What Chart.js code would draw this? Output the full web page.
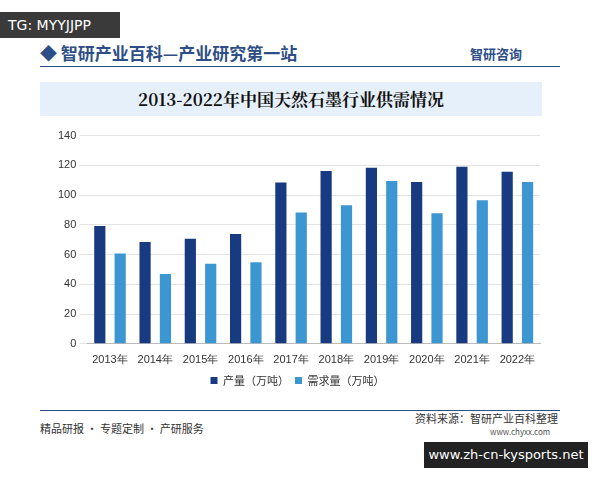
<!DOCTYPE html>
<html><head><meta charset="utf-8">
<script src="https://cdn.jsdelivr.net/npm/chart.js@4/dist/chart.umd.min.js"></script>
<style>
body{margin:0;width:600px;height:480px;background:#fff;font-family:"Noto Sans CJK SC",sans-serif;position:relative;overflow:hidden}
.abs{position:absolute}
</style></head><body>
<div class="abs" style="left:0;top:12px;width:120px;height:26px;background:#3a3a3a;color:#fff;font:14px 'DejaVu Sans';line-height:26px;padding-left:8px;box-sizing:border-box">TG: MYYJJPP</div>
<div class="abs" style="left:40px;top:40px;font-size:17px;font-weight:bold;color:#2d4e86">◆ 智研产业百科—产业研究第一站</div>
<div class="abs" style="left:470px;top:44px;font-size:13px;color:#2d4e86;font-weight:bold">智研咨询</div>
<div class="abs" style="left:40px;top:66px;width:520px;border-top:1px solid #2d4e86"></div>
<div class="abs" style="left:40px;top:82px;width:502px;height:34px;background:#e6f0fa;text-align:center;line-height:34px;font-family:'Noto Serif CJK SC','Noto Sans CJK SC';font-size:17px;font-weight:bold;color:#111">2013-2022年中国天然石墨行业供需情况</div>
<div class="abs" style="left:40px;top:410px;width:520px;border-top:1px solid #2d4e86"></div>
<div class="abs" style="left:40px;top:420px;font-size:11px;color:#333">精品研报 · 专题定制 · 产研服务</div>
<div class="abs" style="left:415px;top:410px;font-size:11px;color:#333">资料来源：智研产业百科整理</div>
<div class="abs" style="left:490px;top:426px;font-size:8px;color:#555">www.chyxx.com</div>
<div class="abs" style="left:424px;top:442px;width:164px;height:26px;background:#222;color:#fff;font:13px 'DejaVu Sans';line-height:26px;text-align:center">www.zh-cn-kysports.net</div>
<div class="abs" style="left:55px;top:126px;width:495px;height:270px"><canvas id="c"></canvas></div>
<script>
const categories=["2013年","2014年","2015年","2016年","2017年","2018年","2019年","2020年","2021年","2022年"];
const production=[79.2,68.4,70.6,73.9,108.4,116.2,118.4,108.8,119,115.7];
const demand=[60.8,46.9,53.8,54.9,88.3,93.1,109.5,87.8,96.5,108.8];
new Chart(document.getElementById('c'),{type:'bar',
data:{labels:categories,datasets:[
{label:'产量（万吨）',data:production,backgroundColor:'#173a80',barPercentage:0.55,categoryPercentage:0.9},
{label:'需求量（万吨）',data:demand,backgroundColor:'#3c96d2',barPercentage:0.55,categoryPercentage:0.9}]},
options:{responsive:true,maintainAspectRatio:false,animation:false,
layout:{padding:{right:10}},
plugins:{legend:{position:'bottom',labels:{boxWidth:7,boxHeight:7,padding:6,font:{size:11,family:'Noto Sans CJK SC'},color:'#333'}}},
scales:{x:{grid:{display:false},border:{color:'#bbb'},ticks:{color:'#333',font:{size:11},padding:2}},
y:{min:0,max:140,ticks:{stepSize:20,color:'#333',font:{size:11}},grid:{color:'#e3e3e3'},border:{display:false}}}}});
</script></body></html>
